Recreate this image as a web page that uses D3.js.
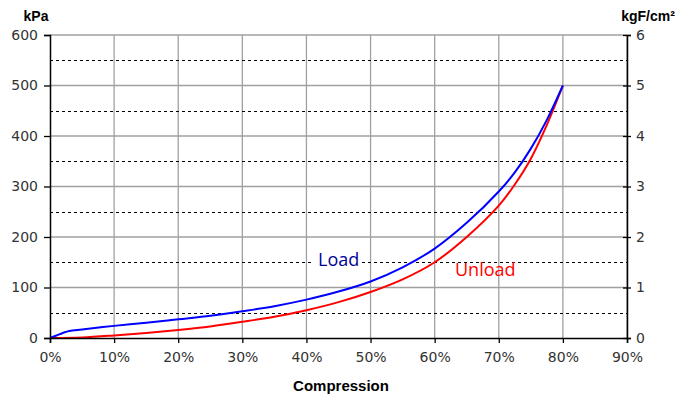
<!DOCTYPE html>
<html>
<head>
  <meta charset="utf-8">
  <script src="https://d3js.org/d3.v7.min.js"></script>
  <style>
    body { margin: 0; background: #fff; }
    svg { display: block; }
    .tick text { font-family: "DejaVu Sans", "Liberation Sans", sans-serif; font-size: 14px; fill: #333; }
  </style>
</head>
<body>
<svg id="chart" width="684" height="400"></svg>
<script>
  // compression (%) and pressure (kPa)
  var loadX = [0, 1, 2, 3, 5, 10, 15, 20, 25, 30, 35, 40, 45, 50, 55, 60, 65, 70, 72.5, 75, 77.5, 80];
  var loadY = [0, 5, 10, 14, 17, 24, 30, 37, 44, 53, 63, 76, 92, 112, 140, 177, 228, 290, 328, 375, 432, 500];
  var unloadX = [0, 5, 10, 15, 20, 25, 30, 35, 40, 45, 50, 55, 60, 65, 70, 72.5, 75, 77.5, 80];
  var unloadY = [0, 1, 5, 10, 16, 23, 32, 42, 55, 71, 91, 116, 150, 200, 262, 304, 355, 422, 500];
  var xTicks = [0, 10, 20, 30, 40, 50, 60, 70, 80, 90];
  var yTicks = [0, 100, 200, 300, 400, 500, 600];
  var yHalf = [50, 150, 250, 350, 450, 550];
  var y2Ticks = [0, 1, 2, 3, 4, 5, 6];

  var svg = d3.select("#chart");
  var pLeft = 50, pRight = 627, pTop = 35, pBottom = 338;

  var x = d3.scaleLinear().domain([0, 90]).range([pLeft, pRight]);
  var y = d3.scaleLinear().domain([0, 600]).range([pBottom, pTop]);
  var y2 = d3.scaleLinear().domain([0, 6]).range([pBottom, pTop]);

  // grid
  svg.append("g").selectAll("line").data(xTicks.slice(1)).enter().append("line")
    .attr("x1", d => x(d)).attr("x2", d => x(d))
    .attr("y1", pTop).attr("y2", pBottom)
    .attr("stroke", "#a0a0a0").attr("stroke-width", 1.3);
  svg.append("g").selectAll("line").data(yTicks.slice(1)).enter().append("line")
    .attr("x1", pLeft).attr("x2", pRight)
    .attr("y1", d => y(d)).attr("y2", d => y(d))
    .attr("stroke", "#a0a0a0").attr("stroke-width", 1.3);
  svg.append("g").selectAll("line").data(yHalf).enter().append("line")
    .attr("x1", pLeft).attr("x2", pRight)
    .attr("y1", d => Math.round(y(d)) + 0.5).attr("y2", d => Math.round(y(d)) + 0.5)
    .attr("stroke", "#000").attr("stroke-width", 1)
    .attr("stroke-dasharray", "3,3");

  // curves
  var line = d3.line().x(d => x(d[0])).y(d => y(d[1])).curve(d3.curveCatmullRom.alpha(0.5));
  svg.append("path").datum(unloadX.map((v, i) => [v, unloadY[i]]))
    .attr("d", line).attr("fill", "none").attr("stroke", "#ff0000").attr("stroke-width", 2);
  svg.append("path").datum(loadX.map((v, i) => [v, loadY[i]]))
    .attr("d", line).attr("fill", "none").attr("stroke", "#0000ff").attr("stroke-width", 2);

  // axes
  var xAxis = svg.append("g").attr("transform", "translate(0," + pBottom + ")")
    .call(d3.axisBottom(x).tickValues(xTicks).tickFormat(d => d + "%").tickSizeOuter(0).tickSize(5));
  xAxis.selectAll("text").attr("dy", "1.15em");
  var yAxis = svg.append("g").attr("transform", "translate(" + pLeft + ",0)")
    .call(d3.axisLeft(y).tickValues(yTicks).tickSizeOuter(0).tickSize(6));
  yAxis.selectAll("text").attr("x", -12);
  var y2Axis = svg.append("g").attr("transform", "translate(" + pRight + ",0)")
    .call(d3.axisRight(y2).tickValues(y2Ticks).tickFormat(d3.format("d")).tickSizeOuter(0).tickSize(4));
  y2Axis.selectAll(".tick line").attr("x1", -4);
  y2Axis.selectAll("text").attr("x", 9);
  svg.selectAll(".domain").attr("stroke", "#000").attr("stroke-width", 1.5);
  svg.selectAll(".tick line").attr("stroke", "#000").attr("stroke-width", 1.3);

  // titles
  svg.append("text").attr("x", 36).attr("y", 21).attr("text-anchor", "middle")
    .style("font-family", "Liberation Sans, Arial, sans-serif").style("font-weight", "bold").style("font-size", "14px")
    .text("kPa");
  svg.append("text").attr("x", 648).attr("y", 21).attr("text-anchor", "middle")
    .style("font-family", "Liberation Sans, Arial, sans-serif").style("font-weight", "bold").style("font-size", "14px")
    .text("kgF/cm²");
  svg.append("text").attr("x", 341).attr("y", 391).attr("text-anchor", "middle")
    .style("font-family", "Liberation Sans, Arial, sans-serif").style("font-weight", "bold").style("font-size", "15px")
    .text("Compression");

  // series labels
  svg.append("rect").attr("x", 314).attr("y", 248).attr("width", 48).attr("height", 22).attr("fill", "#fff");
  svg.append("text").attr("x", 318).attr("y", 266)
    .style("font-family", "Open Sans, Noto Sans, sans-serif").style("font-size", "18px").attr("fill", "#000099")
    .text("Load");
  svg.append("text").attr("x", 455).attr("y", 276)
    .style("font-family", "Open Sans, Noto Sans, sans-serif").style("font-size", "18px").attr("fill", "#ff0000")
    .text("Unload");
</script>
</body>
</html>
